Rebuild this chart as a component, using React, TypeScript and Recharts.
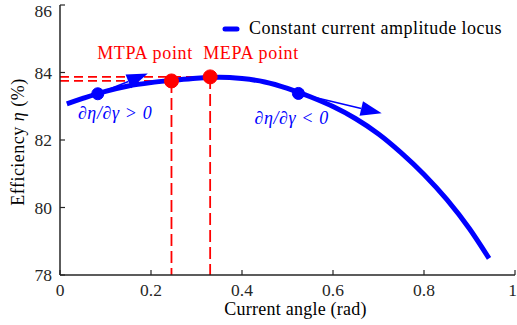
import React from "react";
import {
  ComposedChart,
  Line,
  XAxis,
  YAxis,
  ReferenceLine,
  ReferenceDot,
  Legend,
} from "recharts";

// constant current amplitude locus
const angle = [0.015, 0.05, 0.1, 0.15, 0.2, 0.25, 0.3, 0.35, 0.4, 0.45, 0.5, 0.55, 0.6, 0.65, 0.7, 0.75, 0.8, 0.85, 0.9, 0.943];
const efficiency = [83.07, 83.23, 83.44, 83.6, 83.7, 83.77, 83.83, 83.86, 83.82, 83.72, 83.53, 83.28, 82.99, 82.63, 82.18, 81.62, 80.98, 80.24, 79.37, 78.49];

const xTicks = [0, 0.2, 0.4, 0.6, 0.8, 1];
const yTicks = [78, 80, 82, 84, 86];

// gradient sample points (blue) and their arrow tips
const sampleX = [0.083, 0.524];
const sampleY = [83.37, 83.38];
const tipX = [0.193, 0.707];
const tipY = [83.97, 82.79];
const gradLabels = ["\u2202\u03B7/\u2202\u03B3 > 0", "\u2202\u03B7/\u2202\u03B3 < 0"];
const gradLabelX = [0.121, 0.509];
const gradLabelY = [82.8, 82.65];

// optimum points (red)
const optNames = ["MTPA point", "MEPA point"];
const optX = [0.245, 0.33];
const optY = [83.75, 83.87];
const optLabelX = [0.187, 0.42];
const optLabelY = [84.58, 84.58];

const data = angle.map((a, i) => ({ angle: a, eff: efficiency[i] }));

const FONT = '"Liberation Serif", "Times New Roman", serif';
const AX = "#262626";
const BLUE = "#0000ff";
const RED = "#ff0000";

const ArrowShape = (p: any) => {
  const { x1, y1, x2, y2 } = p;
  const ang = Math.atan2(y2 - y1, x2 - x1);
  const L = 21;
  const W = 7.5;
  const bx = x2 - L * Math.cos(ang);
  const by = y2 - L * Math.sin(ang);
  const px = -Math.sin(ang) * W;
  const py = Math.cos(ang) * W;
  return (
    <g>
      <line x1={x1} y1={y1} x2={bx} y2={by} stroke={BLUE} strokeWidth={1.6} />
      <polygon points={`${x2},${y2} ${bx + px},${by + py} ${bx - px},${by - py}`} fill={BLUE} />
    </g>
  );
};

const textAt = (txt: string, color: string, italic: boolean) => (p: any) => (
  <text
    x={p.cx}
    y={p.cy}
    textAnchor="middle"
    dominantBaseline="central"
    fill={color}
    fontFamily={FONT}
    fontSize={18}
    letterSpacing={italic ? 0.6 : 0.7}
    fontStyle={italic ? "italic" : "normal"}
  >
    {txt}
  </text>
);

const LegendBox = () => (
  <div
    style={{
      display: "flex",
      alignItems: "center",
      fontFamily: FONT,
      fontSize: 18,
      letterSpacing: 0.45,
      color: "#000",
      whiteSpace: "nowrap",
    }}
  >
    <svg width={18} height={10} style={{ marginRight: 9 }}>
      <line x1={3} y1={5} x2={15} y2={5} stroke={BLUE} strokeWidth={5} strokeLinecap="round" />
    </svg>
    Constant current amplitude locus
  </div>
);

const YLabel = (p: any) => {
  const vb = p.viewBox;
  const cx = vb.x + 18;
  const cy = vb.y + vb.height / 2 + 2;
  return (
    <text
      x={cx}
      y={cy}
      transform={`rotate(-90 ${cx} ${cy})`}
      textAnchor="middle"
      dominantBaseline="central"
      fontFamily={FONT}
      fontSize={18}
      letterSpacing={0.5}
      fill="#000"
    >
      Efficiency <tspan fontStyle="italic">{"\u03B7"}</tspan> (%)
    </text>
  );
};

const XLabel = (p: any) => {
  const vb = p.viewBox;
  return (
    <text
      x={vb.x + vb.width / 2 + 8}
      y={vb.y + 40}
      textAnchor="middle"
      fontFamily={FONT}
      fontSize={18}
      letterSpacing={0.25}
      fill="#000"
    >
      Current angle (rad)
    </text>
  );
};

const tickStyle = { fontFamily: FONT, fontSize: 17.5, fill: AX };
const blank = () => "";

export default function App() {
  return (
    <div style={{ position: "absolute", left: 0, top: 0, background: "#fff" }}>
      <ComposedChart width={517} height={325} data={data} margin={{ top: 5, right: 2, bottom: 0, left: 0 }}>
        <XAxis
          dataKey="angle"
          type="number"
          domain={[0, 1]}
          ticks={xTicks}
          height={50}
          tickSize={-5}
          tickMargin={14}
          tick={tickStyle}
          axisLine={{ stroke: AX, strokeWidth: 1.5 }}
          tickLine={{ stroke: AX, strokeWidth: 1.2 }}
          label={<XLabel />}
        />
        <XAxis
          xAxisId="top"
          orientation="top"
          type="number"
          domain={[0, 1]}
          ticks={xTicks}
          height={0}
          tickSize={-5}
          tickFormatter={blank}
          axisLine={{ stroke: AX, strokeWidth: 1.5 }}
          tickLine={{ stroke: AX, strokeWidth: 1.2 }}
        />
        <YAxis
          type="number"
          domain={[78, 86]}
          ticks={yTicks}
          width={60}
          tickSize={-5}
          tickMargin={13}
          tick={tickStyle}
          axisLine={{ stroke: AX, strokeWidth: 1.5 }}
          tickLine={{ stroke: AX, strokeWidth: 1.2 }}
          label={<YLabel />}
        />
        <YAxis
          yAxisId="right"
          orientation="right"
          type="number"
          domain={[78, 86]}
          ticks={yTicks}
          width={0}
          tickSize={-5}
          tickFormatter={blank}
          axisLine={{ stroke: AX, strokeWidth: 1.5 }}
          tickLine={{ stroke: AX, strokeWidth: 1.2 }}
        />

        {optX.map((x, i) => (
          <ReferenceLine
            key={`h${i}`}
            segment={[{ x: 0, y: optY[i] }, { x, y: optY[i] }]}
            stroke={RED}
            strokeWidth={1.8}
            strokeDasharray="9 5"
          />
        ))}
        {optX.map((x, i) => (
          <ReferenceLine
            key={`v${i}`}
            segment={[{ x, y: optY[i] }, { x, y: 78 }]}
            stroke={RED}
            strokeWidth={1.8}
            strokeDasharray="12 5"
          />
        ))}

        <Line
          dataKey="eff"
          type="monotone"
          stroke={BLUE}
          strokeWidth={5}
          dot={false}
          isAnimationActive={false}
        />

        {sampleX.map((x, i) => (
          <ReferenceLine
            key={`a${i}`}
            segment={[{ x, y: sampleY[i] }, { x: tipX[i], y: tipY[i] }]}
            shape={ArrowShape}
          />
        ))}
        {sampleX.map((x, i) => (
          <ReferenceDot key={`s${i}`} x={x} y={sampleY[i]} r={6} fill={BLUE} stroke={BLUE} />
        ))}
        {optX.map((x, i) => (
          <ReferenceDot key={`o${i}`} x={x} y={optY[i]} r={7} fill={RED} stroke={RED} />
        ))}

        {optNames.map((n, i) => (
          <ReferenceDot key={`on${i}`} x={optLabelX[i]} y={optLabelY[i]} r={1} shape={textAt(n, RED, false)} />
        ))}
        {gradLabels.map((n, i) => (
          <ReferenceDot key={`gl${i}`} x={gradLabelX[i]} y={gradLabelY[i]} r={1} shape={textAt(n, BLUE, true)} />
        ))}

        <Legend
          layout="vertical"
          align="center"
          verticalAlign="middle"
          content={<LegendBox />}
          wrapperStyle={{ left: 222, top: 18, width: "auto" }}
        />
      </ComposedChart>
    </div>
  );
}
